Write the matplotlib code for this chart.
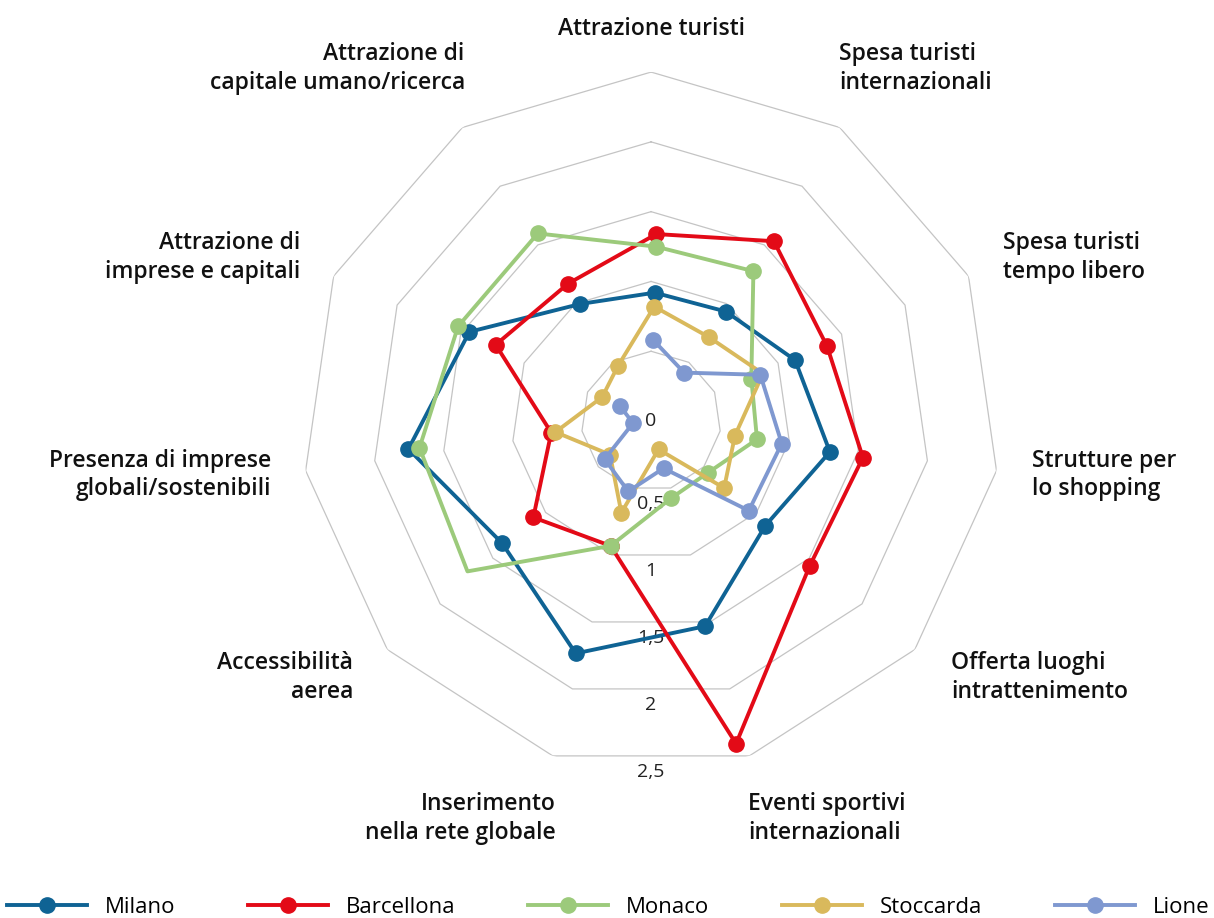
import numpy as np
import matplotlib
matplotlib.use("Agg")
import matplotlib.pyplot as plt
from matplotlib.lines import Line2D

plt.rcParams['font.family'] = ['Open Sans', 'DejaVu Sans']

categories = [
    "Attrazione turisti",
    "Spesa turisti\ninternazionali",
    "Spesa turisti\ntempo libero",
    "Strutture per\nlo shopping",
    "Offerta luoghi\nintrattenimento",
    "Eventi sportivi\ninternazionali",
    "Inserimento\nnella rete globale",
    "Accessibilità\naerea",
    "Presenza di imprese\nglobali/sostenibili",
    "Attrazione di\nimprese e capitali",
    "Attrazione di\ncapitale umano/ricerca",
]

milano = [0.92, 0.95, 1.12, 1.30, 1.11, 1.52, 1.75, 1.38, 1.75, 1.45, 0.98]
barcellona = [1.34, 1.56, 1.37, 1.54, 1.54, 2.39, 0.94, 1.09, 0.72, 1.24, 1.15]
monaco = [1.25, 1.30, 0.78, 0.77, 0.55, 0.57, 0.94, 1.70, 1.67, 1.54, 1.57]
stoccarda = [0.82, 0.73, 0.87, 0.61, 0.71, 0.21, 0.69, 0.38, 0.69, 0.39, 0.46]
lione = [0.58, 0.42, 0.85, 0.95, 0.95, 0.35, 0.53, 0.43, 0.13, 0.25, np.nan]

series_names = ["Milano", "Barcellona", "Monaco", "Stoccarda", "Lione"]
series_values = [milano, barcellona, monaco, stoccarda, lione]
series_colors = ["#0f6394", "#e30a17", "#9cca7b", "#d9b95c", "#7f98d0"]
# points drawn without a marker
no_marker = {"Monaco": [7], "Stoccarda": [2]}

grid_levels = [0.5, 1.0, 1.5, 2.0, 2.5]
tick_labels = ["0,5", "1", "1,5", "2", "2,5"]

n = len(categories)
angles = np.linspace(0, 2 * np.pi, n, endpoint=False)
closed = np.append(angles, angles[0])
# series sit slightly clockwise of the grid spokes
data_shift = np.deg2rad(1.6)
# small pixel nudges for the category labels (x, y)
label_nudge = [(0, 0), (-17, 7), (7, 6), (5, 0), (13, -8), (-10, -7),
               (12, -7), (-11, -8), (-4, 0), (-5, 6), (19, 7)]

fig = plt.figure(figsize=(12.14, 9.18), dpi=100)
ax = fig.add_axes([0.2488, 0.1612, 0.575, 0.7603], projection='polar')
ax.set_theta_zero_location('N')
ax.set_theta_direction(-1)
ax.set_ylim(0, 2.5)
ax.axis('off')

# polygon grid
for lev in grid_levels:
    ax.plot(closed, [lev] * (n + 1), color="#c4c4c4", lw=0.9, zorder=1)

# value labels along the bottom
edge = np.cos(np.pi / n)
ax.text(0, 0, "0", ha='center', va='center', fontsize=14, color="#222222", zorder=2)
for lev, lab in zip(grid_levels, tick_labels):
    ax.text(np.pi, lev * edge + 0.05, lab, ha='center', va='top',
            fontsize=14, color="#222222", zorder=2)

# series
for name, vals, col in zip(series_names, series_values, series_colors):
    v = np.append(vals, vals[0])
    keep = [i for i in range(n) if i not in no_marker.get(name, [])]
    ax.plot(closed + data_shift, v, color=col, lw=2.8, marker='o', markersize=11,
            markevery=keep, zorder=3, clip_on=False)

# category labels
for ang, lab, nudge in zip(angles, categories, label_nudge):
    s, c = np.sin(ang), np.cos(ang)
    if abs(s) < 0.1:
        ha = 'center'
    elif s > 0:
        ha = 'left'
    else:
        ha = 'right'
    if c > 0.7:
        va = 'bottom'
    elif c < -0.7:
        va = 'top'
    else:
        va = 'center'
    ax.annotate(lab, xy=(ang, 2.72), xytext=nudge, textcoords='offset pixels',
                ha=ha, va=va, multialignment=ha, annotation_clip=False,
                fontsize=16.5, fontweight='semibold', color="#111111", linespacing=1.25)

handles = [Line2D([], [], color=col, lw=2.8, marker='o', markersize=11)
           for col in series_colors]
fig.legend(handles, series_names, loc='lower left', bbox_to_anchor=(0.006, 0.0, 0.99, 0.03),
           mode='expand', ncol=5, frameon=False, handlelength=3.6, fontsize=16,
           borderaxespad=0.0, borderpad=0.0)

fig.savefig("out.png", dpi=100)
